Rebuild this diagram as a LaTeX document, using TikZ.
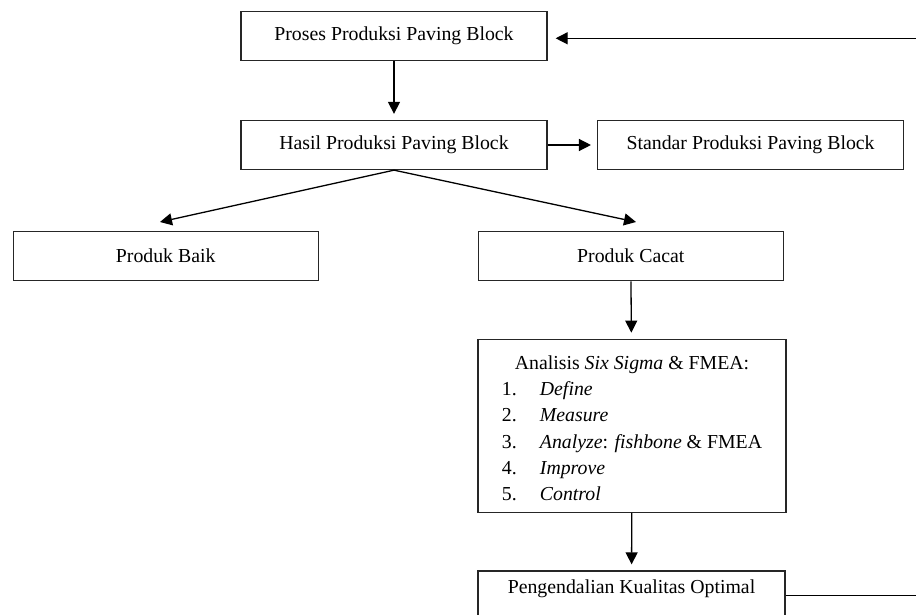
\documentclass[tikz,border=0pt]{standalone}
\usepackage{fontspec}
\setmainfont{Liberation Serif}
\usetikzlibrary{arrows.meta,calc}
\begin{document}
\begin{tikzpicture}[x=1pt,y=-1pt,
  box/.style={draw=black!85, line width=1.3pt, minimum width=306pt, minimum height=49pt, inner sep=0pt, font=\fontsize{19.8}{24}\selectfont},
  conn/.style={line width=1.3pt, draw=black},
  arr/.style={conn, -{Triangle[length=12pt,width=12pt]}, shorten >=6pt},
]
\useasboundingbox (0,0) rectangle (916,615);
\node[box] (proses) at (394,36.2) {Proses Produksi Paving Block};
\node[box] (hasil) at (394,145) {Hasil Produksi Paving Block};
\node[box] (standar) at (750.6,145) {Standar Produksi Paving Block};
\node[box, minimum width=305pt] (baik) at (165.7,256.2) {Produk Baik};
\node[box, minimum width=305pt] (cacat) at (630.8,256.2) {Produk Cacat};
\node[box, minimum width=308pt, minimum height=173pt, font=\fontsize{19.8}{26.2}\selectfont] (ana) at (632,425.8)
  {\raisebox{-4pt}[\height][\depth]{\begin{tabular}{@{}p{38pt}@{}l@{}}
   \multicolumn{2}{@{}c@{}}{Analisis \textit{Six Sigma} \& FMEA:}\\
   1. & \textit{Define}\\
   2. & \textit{Measure}\\
   3. & \textit{Analyze}: \textit{fishbone} \& FMEA\\
   4. & \textit{Improve}\\
   5. & \textit{Control}
   \end{tabular}}};
\node[box, minimum width=307pt, text depth=18pt] (peng) at (631.5,595.5) {Pengendalian Kualitas Optimal};

\coordinate (tb) at (160,222);
\coordinate (tc) at (636,222);
\coordinate (fr1) at (917,595.5);
\coordinate (fr2) at (917,38.3);

\draw[arr] (proses) -- (hasil);
\draw[arr] (hasil) -- (standar);
\draw[arr, shorten >=0pt] (hasil.south) -- (tb);
\draw[arr, shorten >=0pt] (hasil.south) -- (tc);
\draw[arr] (cacat) -- (ana);
\draw[arr] (ana) -- (peng);
\draw[conn] (peng.east) -- (fr1);
\draw[arr, shorten >=8pt] (fr2) -- (proses.east |- fr2);
\end{tikzpicture}
\end{document}
